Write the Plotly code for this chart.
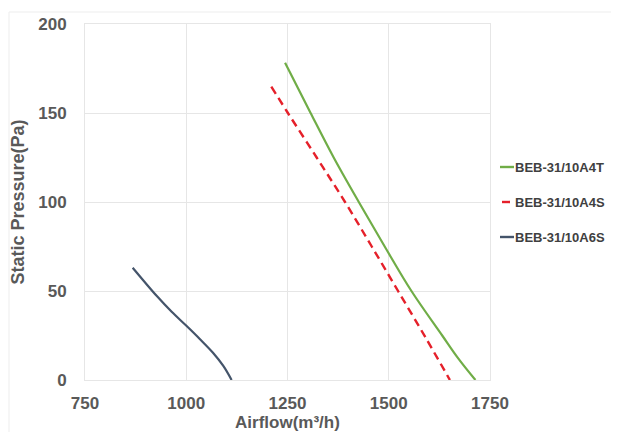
import plotly.graph_objects as go

# Data
a4t_flow = [1244, 1307, 1364, 1426, 1490, 1556, 1632, 1672, 1714]
a4t_pres = [178.3, 150, 125, 100, 75, 50, 25, 12, 0]

a4s_flow = [1210, 1251, 1322, 1392, 1458, 1523, 1590, 1651]
a4s_pres = [164.8, 150, 125, 100, 75, 50, 24.2, 0]

a6s_flow = [867.7, 928, 964, 1001, 1034, 1066, 1091.5, 1112]
a6s_pres = [63.1, 47.0, 38.3, 30.3, 22.9, 15.3, 7.9, 0]

x_ticks = [750, 1000, 1250, 1500, 1750]
y_ticks = [0, 50, 100, 150, 200]

names = ["BEB-31/10A4T", "BEB-31/10A4S", "BEB-31/10A6S"]
colors = ["#70AD47", "#E5202A", "#44546A"]
dashes = ["solid", "8px,5px", "solid"]

# page body has an 8px margin: figure origin sits at (8, 8) in the screenshot
OFF = 8
W, H = 611, 424
ML, MR, MT, MB = 77, 129, 16, 52
PW, PH = W - ML - MR, H - MT - MB


def px_x(px):
    return (px - OFF - ML) / PW


def px_y(py):
    return (H - MB - (py - OFF)) / PH


font_family = "Liberation Sans, Arial, sans-serif"

fig = go.Figure()
for name, fx, py_, col, dsh in zip(names, [a4t_flow, a4s_flow, a6s_flow],
                                    [a4t_pres, a4s_pres, a6s_pres], colors, dashes):
    fig.add_trace(go.Scatter(x=fx, y=py_, mode="lines", name=name,
                             line=dict(color=col, width=2.4 if dsh != "solid" else 2.2,
                                       dash=dsh, shape="spline", smoothing=1.0)))

# custom legend (short keys like the reference)
shapes = []
annotations = []
legend_y = [167, 202, 237]
for name, col, dsh, ly in zip(names, colors, dashes, legend_y):
    if dsh != "solid":
        x0, x1 = 502, 510
    else:
        x0, x1 = 500, 514
    shapes.append(dict(type="line", xref="paper", yref="paper",
                       x0=px_x(x0), x1=px_x(x1), y0=px_y(ly), y1=px_y(ly),
                       line=dict(color=col, width=2.4)))
    annotations.append(dict(text=name, xref="paper", yref="paper",
                            x=px_x(513), y=px_y(ly), xanchor="left", yanchor="middle",
                            showarrow=False,
                            font=dict(size=13, color="#404040", family=font_family, weight="bold")))

# faint outer frame
shapes.append(dict(type="line", xref="paper", yref="paper",
                   x0=px_x(9), x1=px_x(619), y0=px_y(12), y1=px_y(12),
                   line=dict(color="#EDEDED", width=1)))
shapes.append(dict(type="line", xref="paper", yref="paper",
                   x0=px_x(9), x1=px_x(9), y0=px_y(432), y1=px_y(12),
                   line=dict(color="#EDEDED", width=1)))

fig.update_layout(
    width=W, height=H,
    margin=dict(l=ML, r=MR, t=MT, b=MB),
    paper_bgcolor="white", plot_bgcolor="white",
    font=dict(family=font_family, color="#595959"),
    showlegend=False,
    xaxis=dict(
        range=[750, 1750], tickvals=x_ticks, ticktext=[str(v) for v in x_ticks],
        showgrid=True, gridcolor="#E6E6E6", gridwidth=1, automargin=False,
        zeroline=False, showline=True, linecolor="#E6E6E6", mirror=True,
        ticks="", ticklabelstandoff=8,
        tickfont=dict(size=17, color="#595959", weight="bold"),
        title=dict(text="Airflow(m³/h)", standoff=1,
                   font=dict(size=17, color="#595959", weight="bold")),
    ),
    yaxis=dict(
        range=[0, 200], tickvals=y_ticks, ticktext=[str(v) for v in y_ticks],
        showgrid=True, gridcolor="#E6E6E6", gridwidth=1, automargin=False,
        zeroline=False, showline=True, linecolor="#E6E6E6", mirror=True,
        ticks="", ticklabelstandoff=14,
        tickfont=dict(size=17, color="#595959", weight="bold"),
        title=dict(text="Static Pressure(Pa)", standoff=8,
                   font=dict(size=18, color="#595959", weight="bold")),
    ),
    shapes=shapes,
    annotations=annotations,
)

fig.write_html("out.html")
